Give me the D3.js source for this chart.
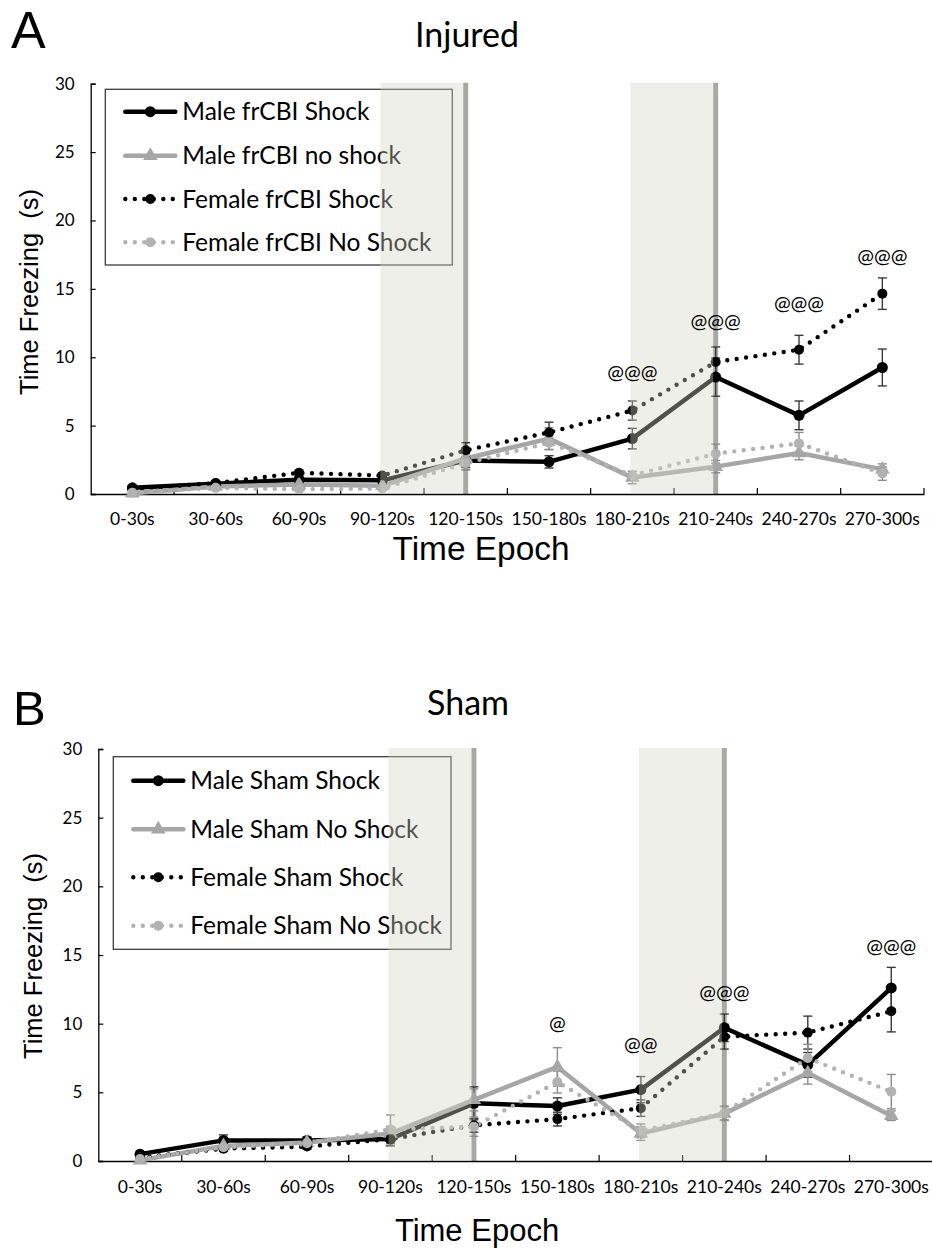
<!DOCTYPE html>
<html>
<head>
<meta charset="utf-8">
<script src="https://cdn.jsdelivr.net/npm/d3@7"></script>
<style>
  html, body { margin: 0; padding: 0; background: #fff; }
  svg { display: block; }
</style>
</head>
<body>
<svg id="chart" width="932" height="1258"></svg>
<script>
// ---- shared categories and axis ticks ----
const epochs = ["0-30s", "30-60s", "60-90s", "90-120s", "120-150s",
                "150-180s", "180-210s", "210-240s", "240-270s", "270-300s"];
const yTicks = [0, 5, 10, 15, 20, 25, 30];
// shock windows, as [from epoch index, to epoch index]
const shockWindows = [[3, 4], [6, 7]];

// ---- Injured (frCBI) groups: mean freezing (s) and SEM ----
const injuredMaleShock        = [0.45, 0.75, 1.05, 1.0, 2.45, 2.35, 4.05, 8.55, 5.75, 9.25];
const injuredMaleShockErr     = [0.1, 0.15, 0.2, 0.2, 0.5, 0.45, 0.75, 1.4, 1.05, 1.35];
const injuredMaleNoShock      = [0.05, 0.55, 0.7, 0.6, 2.6, 4.05, 1.2, 2.0, 3.0, 1.8];
const injuredMaleNoShockErr   = [0.05, 0.1, 0.15, 0.15, 0.8, 0.8, 0.45, 0.45, 0.5, 0.4];
const injuredFemaleShock      = [0.35, 0.8, 1.55, 1.35, 3.2, 4.5, 6.1, 9.65, 10.55, 14.65];
const injuredFemaleShockErr   = [0.1, 0.15, 0.2, 0.2, 0.55, 0.75, 0.7, 1.1, 1.05, 1.15];
const injuredFemaleNoShock    = [0.1, 0.45, 0.35, 0.4, 2.25, 3.75, 1.35, 2.95, 3.7, 1.5];
const injuredFemaleNoShockErr = [0.05, 0.1, 0.1, 0.1, 0.5, 0.5, 0.3, 0.7, 0.8, 0.5];
const injuredSigEpochs = ["180-210s", "210-240s", "240-270s", "270-300s"];
const injuredSigLabels = ["@@@", "@@@", "@@@", "@@@"];
const injuredSigLevels = [8.9, 12.6, 13.9, 17.35];

// ---- Sham groups: mean freezing (s) and SEM ----
const shamMaleShock        = [0.5, 1.5, 1.5, 1.6, 4.2, 4.0, 5.2, 9.7, 7.0, 12.6];
const shamMaleShockErr     = [0.1, 0.4, 0.25, 0.5, 1.2, 0.6, 0.95, 1.0, 0.9, 1.5];
const shamMaleNoShock      = [0.05, 1.1, 1.35, 2.0, 4.45, 6.85, 2.0, 3.45, 6.4, 3.3];
const shamMaleNoShockErr   = [0.05, 0.25, 0.2, 0.5, 0.8, 1.4, 0.5, 0.5, 0.8, 0.35];
const shamFemaleShock      = [0.25, 0.9, 1.05, 1.6, 2.6, 3.05, 3.85, 9.05, 9.35, 10.9];
const shamFemaleShockErr   = [0.1, 0.2, 0.2, 0.3, 0.5, 0.5, 0.6, 0.9, 1.2, 1.5];
const shamFemaleNoShock    = [0.15, 1.0, 1.3, 2.3, 2.5, 5.75, 2.2, 3.5, 7.5, 5.05];
const shamFemaleNoShockErr = [0.05, 0.2, 0.2, 1.05, 0.7, 0.8, 0.5, 0.5, 1.0, 1.25];
const shamSigEpochs = ["150-180s", "180-210s", "210-240s", "270-300s"];
const shamSigLabels = ["@", "@@", "@@@", "@@@"];
const shamSigLevels = [10.0, 8.45, 12.3, 15.6];

// ---- series styles ----
const styles = {
  maleShock:      { color: "#000000", err: "#3a3a3a", dotted: false, marker: "circle",   r: 5.5 },
  maleNoShock:    { color: "#a6a6a6", err: "#8c8c8c", dotted: false, marker: "triangle", r: 6.5 },
  femaleShock:    { color: "#000000", err: "#3a3a3a", dotted: true,  marker: "circle",   r: 5 },
  femaleNoShock:  { color: "#b2b2b2", err: "#8c8c8c", dotted: true,  marker: "circle",   r: 5 }
};

const svg = d3.select("#chart");
const labelFont = "Lato, 'Open Sans', sans-serif";
const arialFont = "'Liberation Sans', Arial, sans-serif";

function drawPanel(p) {
  const g = svg.append("g");
  const x = d3.scaleBand().domain(epochs).range([p.left, p.right]).padding(0);
  const y = d3.scaleLinear().domain([0, 30]).range([p.bottom, p.top]);
  const cx = d => x(d) + x.bandwidth() / 2;
  const cxi = i => x(epochs[0]) + (i + 0.5) * x.bandwidth();

  // panel letter and title
  g.append("text").attr("x", p.letterX).attr("y", p.letterY)
    .attr("font-family", arialFont).attr("font-size", p.letterSize)
    .attr("fill", "#000").text(p.letter);
  g.append("text").attr("x", p.titleX).attr("y", p.titleY)
    .attr("text-anchor", "middle").attr("font-family", labelFont)
    .attr("font-size", 34).attr("fill", "#000").text(p.title);

  // marker lines at the end of each shock window
  shockWindows.forEach(w => {
    g.append("line")
      .attr("x1", cxi(w[1])).attr("x2", cxi(w[1]))
      .attr("y1", y(30) - 1).attr("y2", y(0))
      .attr("stroke", "#a9a9a4").attr("stroke-width", 5);
  });

  // axes
  const yAxis = d3.axisLeft(y).tickValues(yTicks).tickSize(-5).tickPadding(16)
    .tickFormat(d3.format("d"));
  const ya = g.append("g").attr("transform", `translate(${p.left},0)`).call(yAxis);
  ya.select(".domain").attr("stroke", "#000").attr("stroke-width", 1.3);
  ya.selectAll(".tick line").attr("stroke", "#000").attr("stroke-width", 1.2);
  ya.selectAll(".tick text").attr("font-family", labelFont).attr("font-size", 17)
    .attr("fill", "#000");

  const xAxis = d3.axisBottom(x).tickSize(0).tickPadding(0);
  const xa = g.append("g").attr("transform", `translate(0,${p.bottom})`).call(xAxis);
  xa.select(".domain").attr("stroke", "#000").attr("stroke-width", 1.3);
  xa.selectAll(".tick text").attr("font-family", labelFont).attr("font-size", 17.5)
    .attr("fill", "#000").attr("dy", null).attr("y", p.tickLabelDy);
  // inward tick marks on category boundaries
  const bounds = epochs.map(e => x(e)).concat([p.right]).slice(1);
  g.selectAll(null).data(bounds).enter().append("line")
    .attr("x1", d => d).attr("x2", d => d)
    .attr("y1", p.bottom).attr("y2", p.bottom - 6)
    .attr("stroke", "#000").attr("stroke-width", 1.2);

  // axis titles
  g.append("text")
    .attr("transform", `translate(${p.yTitleX},${p.yTitleY}) rotate(-90)`)
    .attr("text-anchor", "middle").attr("font-family", arialFont)
    .attr("font-size", 25.5).attr("fill", "#000")
    .attr("xml:space", "preserve").text("Time Freezing  (s)");
  const xt = g.append("text").attr("x", p.xTitleX).attr("y", p.xTitleY)
    .attr("text-anchor", "middle").attr("font-family", arialFont)
    .attr("font-size", p.xTitleSize).attr("fill", "#000").text("Time Epoch");
  if (p.xTitleLength) xt.attr("textLength", p.xTitleLength).attr("lengthAdjust", "spacingAndGlyphs");

  // legend box
  g.append("rect").attr("x", p.legend.x).attr("y", p.legend.y)
    .attr("width", p.legend.w).attr("height", p.legend.h)
    .attr("fill", "#fff").attr("stroke", "#3c3c3c").attr("stroke-width", 1.3);

  function marker(sel, st, px, py, r) {
    if (st.marker === "triangle") {
      sel.append("path")
        .attr("d", d3.symbol(d3.symbolTriangle, r * r * 2.2)())
        .attr("transform", `translate(${px},${py})`)
        .attr("fill", st.color);
    } else {
      sel.append("circle").attr("cx", px).attr("cy", py).attr("r", r)
        .attr("fill", st.color);
    }
  }
  function strokeStyle(sel, st) {
    sel.attr("stroke", st.color).attr("fill", "none").attr("stroke-linecap", "round");
    if (st.dotted) sel.attr("stroke-width", 4.4).attr("stroke-dasharray", "0,9.5");
    else sel.attr("stroke-width", 4.5).attr("stroke-linejoin", "round");
  }

  p.series.forEach((s, i) => {
    const st = styles[s.style];
    const ly = p.legend.rowY[i];
    const l = g.append("line").attr("x1", p.legend.x + 20).attr("x2", p.legend.x + 70)
      .attr("y1", ly).attr("y2", ly);
    strokeStyle(l, st);
    marker(g, st, p.legend.x + 45, ly, st.r);
    g.append("text").attr("x", p.legend.x + 77).attr("y", ly + 8.5)
      .attr("font-family", labelFont).attr("font-size", 24.5).attr("fill", "#000")
      .text(s.name);
  });

  // series lines
  const line = d3.line().x((d, i) => cxi(i)).y(d => y(d));
  p.series.forEach(s => {
    const st = styles[s.style];
    const path = g.append("path").datum(s.values).attr("d", line);
    strokeStyle(path, st);
  });

  // error bars
  p.series.forEach(s => {
    const st = styles[s.style];
    const eb = g.append("g").attr("stroke", st.err).attr("stroke-width", 1.4);
    s.values.forEach((v, i) => {
      const e = s.errors[i];
      const px = cxi(i);
      eb.append("line").attr("x1", px).attr("x2", px).attr("y1", y(v + e)).attr("y2", y(Math.max(0, v - e)));
      eb.append("line").attr("x1", px - 4.5).attr("x2", px + 4.5).attr("y1", y(v + e)).attr("y2", y(v + e));
      if (v - e > 0)
        eb.append("line").attr("x1", px - 4.5).attr("x2", px + 4.5).attr("y1", y(v - e)).attr("y2", y(v - e));
    });
  });

  // markers
  p.series.forEach(s => {
    const st = styles[s.style];
    s.values.forEach((v, i) => marker(g, st, cxi(i), y(v), st.r));
  });

  // translucent shading over the shock windows
  shockWindows.forEach(w => {
    g.append("rect")
      .attr("x", cxi(w[0]) - 2).attr("y", y(30) - 1)
      .attr("width", cxi(w[1]) - cxi(w[0]) - 0.5)
      .attr("height", y(0) - y(30) + 0.5)
      .attr("fill", "rgb(214,214,196)").attr("fill-opacity", 0.38);
  });

  // significance markers
  p.sig.epochs.forEach((e, i) => {
    g.append("text").attr("x", cx(e)).attr("y", y(p.sig.levels[i]) + 6.5)
      .attr("text-anchor", "middle").attr("font-family", labelFont)
      .attr("font-size", 20).attr("fill", "#000").text(p.sig.labels[i]);
  });
}

drawPanel({
  letter: "A", letterX: 11, letterY: 48, letterSize: 52,
  title: "Injured", titleX: 467, titleY: 47,
  left: 90.7, right: 924, top: 83.7, bottom: 494,
  tickLabelDy: 31,
  yTitleX: 38, yTitleY: 292,
  xTitleX: 481, xTitleY: 560, xTitleSize: 34, xTitleLength: 177,
  legend: { x: 105.3, y: 89.3, w: 347, h: 175.7, rowY: [111.7, 155.7, 199, 242.3] },
  series: [
    { name: "Male frCBI Shock", style: "maleShock", values: injuredMaleShock, errors: injuredMaleShockErr },
    { name: "Male frCBI no shock", style: "maleNoShock", values: injuredMaleNoShock, errors: injuredMaleNoShockErr },
    { name: "Female frCBI Shock", style: "femaleShock", values: injuredFemaleShock, errors: injuredFemaleShockErr },
    { name: "Female frCBI No Shock", style: "femaleNoShock", values: injuredFemaleNoShock, errors: injuredFemaleNoShockErr }
  ],
  sig: { epochs: injuredSigEpochs, labels: injuredSigLabels, levels: injuredSigLevels }
});

drawPanel({
  letter: "B", letterX: 13, letterY: 725, letterSize: 49,
  title: "Sham", titleX: 468, titleY: 715,
  left: 98.3, right: 933, top: 749, bottom: 1161,
  tickLabelDy: 32,
  yTitleX: 42, yTitleY: 956,
  xTitleX: 477, xTitleY: 1241, xTitleSize: 31,
  legend: { x: 113.3, y: 756.7, w: 337.7, h: 192.6, rowY: [780.7, 829.3, 877.3, 925.7] },
  series: [
    { name: "Male Sham Shock", style: "maleShock", values: shamMaleShock, errors: shamMaleShockErr },
    { name: "Male Sham No Shock", style: "maleNoShock", values: shamMaleNoShock, errors: shamMaleNoShockErr },
    { name: "Female Sham Shock", style: "femaleShock", values: shamFemaleShock, errors: shamFemaleShockErr },
    { name: "Female Sham No Shock", style: "femaleNoShock", values: shamFemaleNoShock, errors: shamFemaleNoShockErr }
  ],
  sig: { epochs: shamSigEpochs, labels: shamSigLabels, levels: shamSigLevels }
});
</script>
</body>
</html>
